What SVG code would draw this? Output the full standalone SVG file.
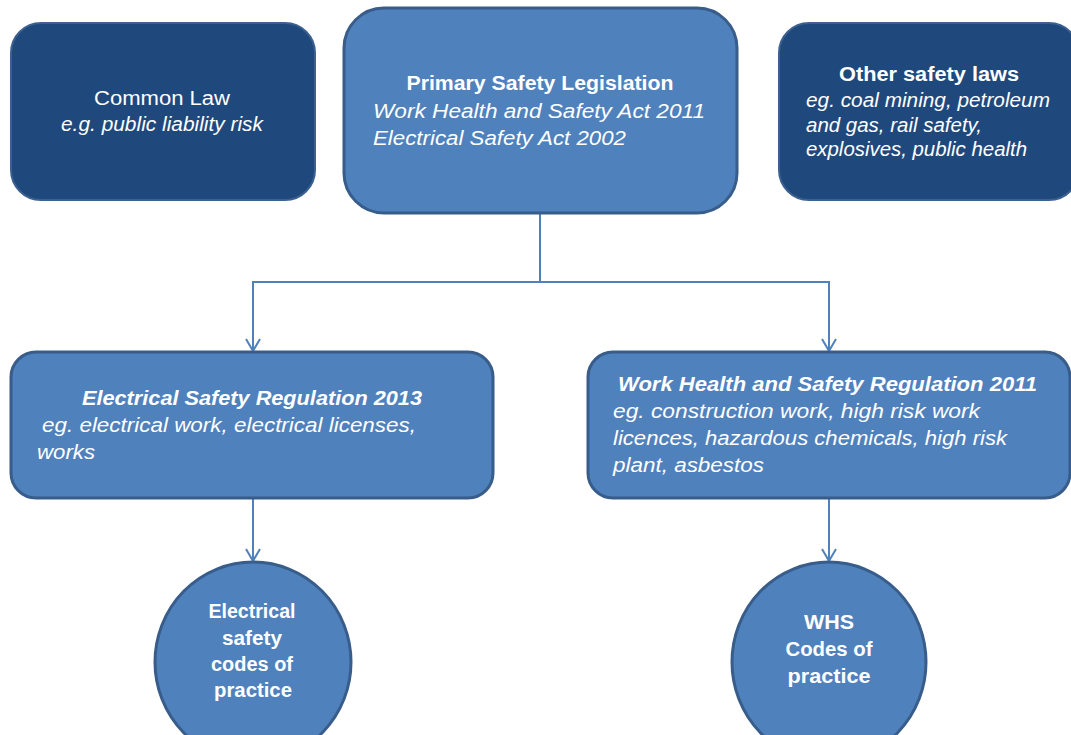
<svg xmlns="http://www.w3.org/2000/svg" width="1071" height="735" viewBox="0 0 1071 735">
<defs>
<style>
.dark{fill:#1f497d;stroke:#3c6190;stroke-width:2}
.light{fill:#4f81bd;stroke:#385d8a;stroke-width:3}
.t{fill:#ffffff;font-family:"Liberation Sans",Arial,sans-serif;font-size:20px}
.b{font-weight:bold}
.i{font-style:italic}
.c{text-anchor:middle}
.conn{fill:none;stroke:#4f81bd;stroke-width:2}
</style>
<marker id="arr" viewBox="0 0 14 16" refX="13" refY="8" markerWidth="14" markerHeight="16" markerUnits="userSpaceOnUse" orient="auto">
<path d="M1,1 L13,8 L1,15" fill="none" stroke="#4f81bd" stroke-width="2"/>
</marker>
</defs>
<rect width="1071" height="735" fill="#ffffff"/>
<g id="connectors">
<path class="conn" d="M540,213 V282 H253 V351" marker-end="url(#arr)"/>
<path class="conn" d="M540,282 H829 V351" marker-end="url(#arr)"/>
<path class="conn" d="M253,498 V561" marker-end="url(#arr)"/>
<path class="conn" d="M829,498 V561" marker-end="url(#arr)"/>
</g>
<g id="common-law">
<rect class="dark" x="11" y="23" width="304" height="177" rx="30"/>
<text class="t c" x="162" y="105" font-size="20" textLength="136" lengthAdjust="spacingAndGlyphs">Common Law</text>
<text class="t c i" x="162" y="131" font-size="18.5" textLength="202" lengthAdjust="spacingAndGlyphs">e.g. public liability risk</text>
</g>
<g id="primary">
<rect class="light" x="344" y="8" width="393" height="205" rx="40"/>
<text class="t c b" x="540" y="90" font-size="21" textLength="267" lengthAdjust="spacingAndGlyphs">Primary Safety Legislation</text>
<text class="t i" x="373" y="118" font-size="21" textLength="332" lengthAdjust="spacingAndGlyphs">Work Health and Safety Act 2011</text>
<text class="t i" x="373" y="145" font-size="21" textLength="253" lengthAdjust="spacingAndGlyphs">Electrical Safety Act 2002</text>
</g>
<g id="other-laws">
<rect class="dark" x="779" y="23" width="300" height="177" rx="30"/>
<text class="t c b" x="929" y="81" font-size="20.5" textLength="180" lengthAdjust="spacingAndGlyphs">Other safety laws</text>
<text class="t i" x="806" y="107" font-size="20" textLength="244" lengthAdjust="spacingAndGlyphs">eg. coal mining, petroleum</text>
<text class="t i" x="806" y="132" font-size="20" textLength="176" lengthAdjust="spacingAndGlyphs">and gas, rail safety,</text>
<text class="t i" x="806" y="156" font-size="20" textLength="221" lengthAdjust="spacingAndGlyphs">explosives, public health</text>
</g>
<g id="esr">
<rect class="light" x="11" y="352" width="482" height="146" rx="25"/>
<text class="t b i" x="82" y="405" font-size="20" textLength="340" lengthAdjust="spacingAndGlyphs">Electrical Safety Regulation 2013</text>
<text class="t i" x="42" y="432" font-size="20" textLength="374" lengthAdjust="spacingAndGlyphs">eg. electrical work, electrical licenses,</text>
<text class="t i" x="37" y="459" font-size="20" textLength="58" lengthAdjust="spacingAndGlyphs">works</text>
</g>
<g id="whsr">
<rect class="light" x="588" y="352" width="482" height="146" rx="25"/>
<text class="t b i" x="618" y="391" font-size="20" textLength="419" lengthAdjust="spacingAndGlyphs">Work Health and Safety Regulation 2011</text>
<text class="t i" x="613" y="418" font-size="20" textLength="367" lengthAdjust="spacingAndGlyphs">eg. construction work, high risk work</text>
<text class="t i" x="613" y="445" font-size="20" textLength="394" lengthAdjust="spacingAndGlyphs">licences, hazardous chemicals, high risk</text>
<text class="t i" x="613" y="472" font-size="20" textLength="151" lengthAdjust="spacingAndGlyphs">plant, asbestos</text>
</g>
<g id="esc">
<ellipse class="light" cx="253" cy="662" rx="98" ry="100"/>
<text class="t c b" x="252" y="618" font-size="19" textLength="87" lengthAdjust="spacingAndGlyphs">Electrical</text>
<text class="t c b" x="252" y="645" font-size="19" textLength="60" lengthAdjust="spacingAndGlyphs">safety</text>
<text class="t c b" x="252" y="671" font-size="19" textLength="82" lengthAdjust="spacingAndGlyphs">codes of</text>
<text class="t c b" x="253" y="697" font-size="19" textLength="78" lengthAdjust="spacingAndGlyphs">practice</text>
</g>
<g id="whsc">
<ellipse class="light" cx="829" cy="662" rx="97" ry="100"/>
<text class="t c b" x="829" y="629" font-size="19.5" textLength="50" lengthAdjust="spacingAndGlyphs">WHS</text>
<text class="t c b" x="829" y="656" font-size="19.5" textLength="87" lengthAdjust="spacingAndGlyphs">Codes of</text>
<text class="t c b" x="829" y="683" font-size="19.5" textLength="83" lengthAdjust="spacingAndGlyphs">practice</text>
</g>
</svg>
